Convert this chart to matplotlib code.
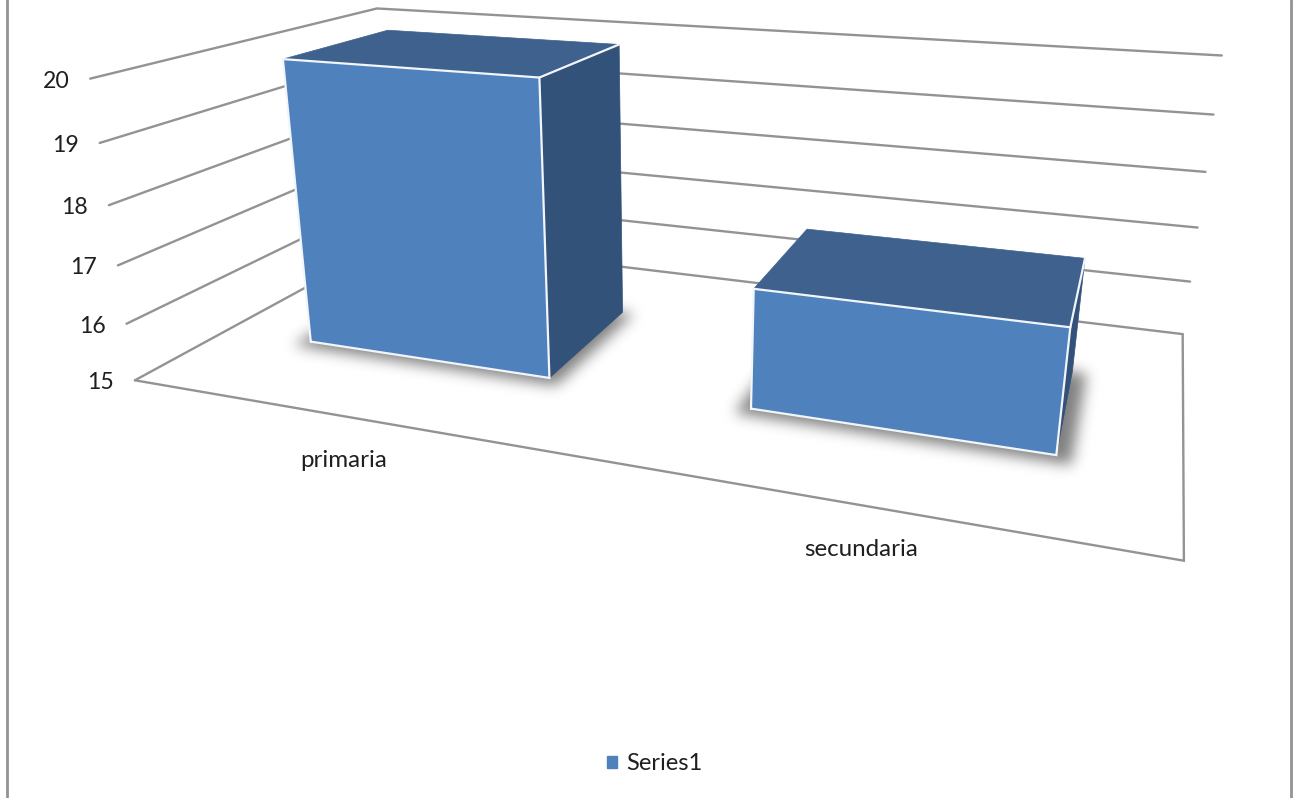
import numpy as np
import matplotlib
matplotlib.use("Agg")
import matplotlib.pyplot as plt
from matplotlib.patches import Patch, Polygon
from matplotlib.path import Path

# Chart data
categories = ["primaria", "secundaria"]
values = [20, 17]
series_name = "Series1"
value_ticks = [15, 16, 17, 18, 19, 20]

# Colours of the bar faces and the room
FRONT = "#4F81BD"
TOP = "#3E618E"
SIDE = "#32527A"
GRID = "#939393"
TEXT = "#1F1F1F"

# Camera: category position (0-1), depth (0-1), value above the baseline -> pixels
CAMERA = np.array([
    [764.3011, 388.9387, -10.3426, 134.9092],
    [45.5760, -61.9761, -61.5467, 380.2998],
    [-0.240467, 0.329651, -0.015439, 1.0],
])
BASE = value_ticks[0]
BAR_WIDTH = 2 / 7
DEPTH_FRONT, DEPTH_BACK = 0.30, 0.70

W, H = 1299, 798
plt.rcParams["font.family"] = ["Lato", "DejaVu Sans"]


def project(x, d, v):
    h = CAMERA @ np.array([x, d, v - BASE, 1.0])
    return h[:2] / h[2]


fig = plt.figure(figsize=(W / 100, H / 100), dpi=100, facecolor="white")
ax = fig.add_axes([0, 0, 1, 1])
ax.set_xlim(0, W)
ax.set_ylim(H, 0)
ax.axis("off")


def line(*points, color=GRID, lw=1.7, zorder=1):
    xy = np.array(points)
    ax.plot(xy[:, 0], xy[:, 1], color=color, lw=lw, solid_capstyle="round",
            solid_joinstyle="miter", zorder=zorder)


# Outer frame of the chart area: only the sides reach into view
line((7.3, 0), (7.3, H), lw=2.0)
line((1290.8, 0), (1290.8, H), lw=2.0)

# Gridlines across the side wall and the back wall, at every value tick
for v in value_ticks:
    line(project(0, 0, v), project(0, 1, v), project(1, 1, v))

# Floor outline
line(project(0, 0, BASE), project(1, 0, BASE), project(1, 1, BASE))

# Soft shadows on the floor
yy, xx = np.mgrid[0:H, 0:W]
grid_points = np.column_stack([xx.ravel() + 0.5, yy.ravel() + 0.5])
kernel_x = np.arange(-24, 25)
kernel = np.exp(-0.5 * (kernel_x / 7.0) ** 2)
kernel /= kernel.sum()
mask = np.zeros((H, W))
for i, _ in enumerate(values):
    c = (i + 0.5) / len(values)
    x0, x1 = c - BAR_WIDTH / 2 - 0.012, c + BAR_WIDTH / 2 + 0.014
    d0, d1 = DEPTH_FRONT - 0.03, DEPTH_BACK
    outline = [project(x0, d0, BASE), project(x1, d0, BASE),
               project(x1, d1, BASE), project(x0, d1, BASE)]
    mask += Path(outline).contains_points(grid_points).reshape(H, W)
mask = np.apply_along_axis(lambda r: np.convolve(r, kernel, mode="same"), 0, mask)
mask = np.apply_along_axis(lambda r: np.convolve(r, kernel, mode="same"), 1, mask)
shadow = np.zeros((H, W, 4))
shadow[..., 3] = np.clip(mask, 0, 1) * 0.5
ax.imshow(shadow, extent=(0, W, H, 0), zorder=2, interpolation="bilinear", aspect="auto")
ax.set_xlim(0, W)
ax.set_ylim(H, 0)

# The bars: side, top, then front face
for i, val in enumerate(values):
    c = (i + 0.5) / len(values)
    x0, x1 = c - BAR_WIDTH / 2, c + BAR_WIDTH / 2
    d0, d1 = DEPTH_FRONT, DEPTH_BACK
    flb, frb = project(x0, d0, BASE), project(x1, d0, BASE)
    brb = project(x1, d1, BASE)
    flt, frt = project(x0, d0, val), project(x1, d0, val)
    brt, blt = project(x1, d1, val), project(x0, d1, val)
    ax.add_patch(Polygon([frb, brb, brt, frt], fc=SIDE, ec=SIDE, lw=0.5, zorder=3))
    ax.add_patch(Polygon([flt, frt, brt, blt], fc=TOP, ec=TOP, lw=0.5, zorder=4))
    ax.add_patch(Polygon([flb, frb, frt, flt], fc=FRONT, ec="none", zorder=5))
    line(flb, frb, frt, flt, flb, color="#F2F5FA", lw=1.6, zorder=6)
    line(frt, brt, color="#F2F5FA", lw=1.6, zorder=6)

# Value labels beside the front edge of the side wall
for v in value_ticks:
    px, py = project(0, 0, v)
    ax.text(px - 21, py + 2.5, str(v), ha="right", va="center", fontsize=16.6, color=TEXT)

# Category labels beneath the front edge of the floor
for i, name in enumerate(categories):
    px, py = project((i + 0.5) / len(categories), 0, BASE)
    ax.text(px - 3, py + 50, name, ha="center", va="baseline", fontsize=17.4, color=TEXT)

ax.legend(handles=[Patch(color=FRONT, label=series_name)], loc="center left",
          bbox_to_anchor=(607, 764), bbox_transform=ax.transData, frameon=False,
          fontsize=17, labelcolor=TEXT, borderpad=0, borderaxespad=0,
          handlelength=0.42, handleheight=0.42, handletextpad=0.38)

fig.savefig("out.png", dpi=100, facecolor="white")
